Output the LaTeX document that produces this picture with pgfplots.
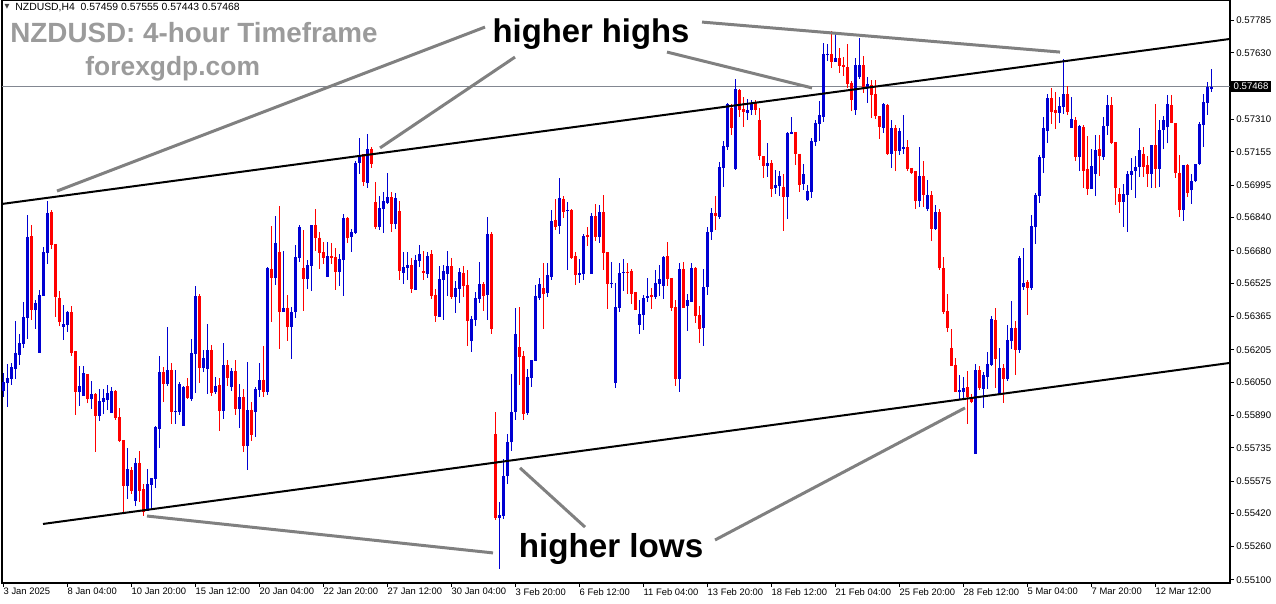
\documentclass[border=0pt]{standalone}
\usepackage{pgfplots}
\pgfplotsset{compat=1.18}
\usepackage{pgfplotstable}
\usetikzlibrary{calc}
\usepackage{fontspec}
\setmainfont{Liberation Sans}
\newfontfamily\djv{DejaVu Sans}
\definecolor{bull}{RGB}{0,0,210}
\definecolor{bear}{RGB}{255,0,0}
\definecolor{ann}{RGB}{128,128,128}
\definecolor{ttl}{RGB}{155,155,155}
\definecolor{pline}{RGB}{130,135,145}
\pgfplotstableread{
i o h l c
0 0.56009 0.56095 0.55980 0.56052
1 0.56047 0.56137 0.55932 0.56070
2 0.56066 0.56142 0.56038 0.56122
3 0.56114 0.56343 0.56066 0.56190
4 0.56182 0.56281 0.56134 0.56238
5 0.56234 0.56434 0.56215 0.56362
6 0.56359 0.56852 0.56258 0.56746
7 0.56751 0.56804 0.56348 0.56398
8 0.56394 0.56444 0.56305 0.56430
9 0.56191 0.56492 0.56191 0.56466
10 0.56465 0.56698 0.56465 0.56674
11 0.56671 0.56921 0.56618 0.56862
12 0.56866 0.56876 0.56690 0.56710
13 0.56713 0.56713 0.56364 0.56460
14 0.56454 0.56487 0.56319 0.56340
15 0.56316 0.56420 0.56254 0.56329
16 0.56326 0.56393 0.56292 0.56386
17 0.56386 0.56415 0.56177 0.56191
18 0.56199 0.56199 0.55894 0.56001
19 0.56002 0.56127 0.55937 0.56031
20 0.55985 0.56127 0.55985 0.56094
21 0.56089 0.56089 0.55948 0.55970
22 0.55970 0.56055 0.55922 0.55993
23 0.55993 0.55999 0.55716 0.55889
24 0.55889 0.56017 0.55865 0.55959
25 0.55956 0.56017 0.55895 0.55974
26 0.55966 0.56036 0.55916 0.55996
27 0.55903 0.56028 0.55903 0.56007
28 0.56007 0.56012 0.55868 0.55879
29 0.55882 0.55926 0.55762 0.55767
30 0.55772 0.55772 0.55420 0.55551
31 0.55551 0.55734 0.55490 0.55633
32 0.55628 0.55642 0.55513 0.55529
33 0.55481 0.55686 0.55455 0.55662
34 0.55662 0.55719 0.55476 0.55529
35 0.55537 0.55561 0.55409 0.55428
36 0.55433 0.55633 0.55433 0.55561
37 0.55558 0.55590 0.55442 0.55590
38 0.55585 0.55839 0.55542 0.55836
39 0.55825 0.56175 0.55734 0.56098
40 0.56098 0.56124 0.55954 0.56041
41 0.56041 0.56314 0.56031 0.56108
42 0.56108 0.56142 0.55850 0.55906
43 0.55908 0.56108 0.55850 0.55912
44 0.55906 0.56050 0.55892 0.56041
45 0.55841 0.56031 0.55841 0.56026
46 0.56031 0.56070 0.55970 0.55972
47 0.55970 0.56257 0.55961 0.56190
48 0.56185 0.56511 0.55998 0.56463
49 0.56463 0.56473 0.56047 0.56118
50 0.56118 0.56204 0.56098 0.56166
51 0.56114 0.56329 0.55994 0.56204
52 0.56204 0.56228 0.55985 0.55999
53 0.56002 0.56076 0.55993 0.56031
54 0.56036 0.56071 0.55817 0.55913
55 0.55913 0.56239 0.55874 0.56132
56 0.56132 0.56156 0.56033 0.56071
57 0.56028 0.56118 0.56009 0.56103
58 0.56103 0.56156 0.55894 0.55922
59 0.55922 0.56042 0.55831 0.55980
60 0.55980 0.56018 0.55716 0.55745
61 0.55745 0.56148 0.55630 0.55918
62 0.55918 0.55956 0.55769 0.55798
63 0.55908 0.56028 0.55788 0.56018
64 0.56014 0.56143 0.55980 0.56062
65 0.56062 0.56225 0.55980 0.56004
66 0.56004 0.56604 0.55990 0.56599
67 0.56594 0.56801 0.56340 0.56551
68 0.56551 0.56849 0.56518 0.56719
69 0.56676 0.56897 0.56210 0.56388
70 0.56388 0.56681 0.56388 0.56407
71 0.56407 0.56470 0.56249 0.56316
72 0.56316 0.56412 0.56162 0.56388
73 0.56388 0.56710 0.56359 0.56652
74 0.56647 0.56806 0.56628 0.56796
75 0.56599 0.56782 0.56393 0.56546
76 0.56546 0.56638 0.56498 0.56612
77 0.56609 0.56804 0.56489 0.56804
78 0.56804 0.56881 0.56681 0.56743
79 0.56743 0.56770 0.56594 0.56671
80 0.56674 0.56722 0.56618 0.56647
81 0.56556 0.56722 0.56556 0.56655
82 0.56655 0.56718 0.56618 0.56647
83 0.56650 0.56694 0.56494 0.56580
84 0.56580 0.56665 0.56513 0.56641
85 0.56638 0.56857 0.56465 0.56838
86 0.56838 0.56842 0.56719 0.56743
87 0.56748 0.56785 0.56676 0.56772
88 0.56767 0.57113 0.56762 0.57102
89 0.57102 0.57222 0.57050 0.57130
90 0.57145 0.57145 0.56993 0.57010
91 0.57006 0.57241 0.56982 0.57169
92 0.57169 0.57178 0.57078 0.57097
93 0.56914 0.57010 0.56783 0.56794
94 0.56794 0.56943 0.56780 0.56886
95 0.56881 0.56962 0.56766 0.56919
96 0.56910 0.57054 0.56905 0.56938
97 0.56938 0.56962 0.56772 0.56810
98 0.56810 0.56958 0.56786 0.56934
99 0.56871 0.56919 0.56542 0.56585
100 0.56575 0.56676 0.56522 0.56604
101 0.56599 0.56674 0.56540 0.56612
102 0.56612 0.56646 0.56479 0.56498
103 0.56494 0.56660 0.56494 0.56636
104 0.56631 0.56708 0.56602 0.56665
105 0.56583 0.56679 0.56540 0.56574
106 0.56569 0.56674 0.56550 0.56655
107 0.56665 0.56684 0.56450 0.56465
108 0.56470 0.56498 0.56340 0.56369
109 0.56364 0.56607 0.56364 0.56545
110 0.56540 0.56612 0.56350 0.56583
111 0.56569 0.56679 0.56463 0.56607
112 0.56607 0.56646 0.56450 0.56460
113 0.56460 0.56535 0.56383 0.56502
114 0.56498 0.56598 0.56431 0.56578
115 0.56574 0.56607 0.56460 0.56513
116 0.56516 0.56588 0.56225 0.56345
117 0.56249 0.56369 0.56196 0.56353
118 0.56350 0.56482 0.56321 0.56454
119 0.56450 0.56626 0.56431 0.56521
120 0.56521 0.56530 0.56393 0.56465
121 0.56470 0.56840 0.56350 0.56761
122 0.56761 0.56770 0.56282 0.56306
123 0.55801 0.55906 0.55390 0.55399
124 0.55399 0.55476 0.55154 0.55414
125 0.55409 0.55682 0.55394 0.55601
126 0.55601 0.55800 0.55560 0.55760
127 0.55760 0.56089 0.55720 0.55908
128 0.55908 0.56407 0.55868 0.56282
129 0.56218 0.56410 0.56036 0.56170
130 0.56175 0.56199 0.55868 0.55898
131 0.55903 0.56113 0.55894 0.56074
132 0.56071 0.56156 0.56028 0.56156
133 0.56153 0.56516 0.56153 0.56463
134 0.56455 0.56550 0.56444 0.56521
135 0.56502 0.56622 0.56306 0.56474
136 0.56479 0.56622 0.56460 0.56564
137 0.56556 0.56876 0.56542 0.56823
138 0.56828 0.56929 0.56780 0.56796
139 0.56801 0.57030 0.56762 0.56934
140 0.56929 0.56943 0.56839 0.56868
141 0.56871 0.56914 0.56590 0.56876
142 0.56876 0.56881 0.56641 0.56646
143 0.56655 0.56674 0.56518 0.56566
144 0.56566 0.56641 0.56527 0.56574
145 0.56570 0.56761 0.56542 0.56751
146 0.56756 0.56794 0.56705 0.56746
147 0.56570 0.56862 0.56570 0.56847
148 0.56847 0.56905 0.56729 0.56748
149 0.56748 0.56900 0.56719 0.56866
150 0.56866 0.56948 0.56590 0.56671
151 0.56674 0.56674 0.56402 0.56522
152 0.56522 0.56626 0.56503 0.56526
153 0.56047 0.56526 0.56023 0.56410
154 0.56407 0.56622 0.56388 0.56574
155 0.56576 0.56641 0.56489 0.56580
156 0.56580 0.56622 0.56474 0.56577
157 0.56583 0.56593 0.56426 0.56474
158 0.56482 0.56482 0.56398 0.56398
159 0.56326 0.56444 0.56282 0.56377
160 0.56374 0.56468 0.56302 0.56454
161 0.56454 0.56550 0.56436 0.56463
162 0.56468 0.56502 0.56402 0.56460
163 0.56460 0.56588 0.56450 0.56526
164 0.56522 0.56612 0.56465 0.56545
165 0.56513 0.56655 0.56450 0.56650
166 0.56655 0.56722 0.56513 0.56546
167 0.56550 0.56550 0.56393 0.56407
168 0.56410 0.56444 0.56033 0.56066
169 0.56066 0.56622 0.56004 0.56593
170 0.56593 0.56626 0.56407 0.56407
171 0.56417 0.56473 0.56297 0.56444
172 0.56436 0.56622 0.56436 0.56598
173 0.56598 0.56602 0.56335 0.56369
174 0.56372 0.56417 0.56239 0.56306
175 0.56311 0.56593 0.56225 0.56506
176 0.56506 0.56796 0.56470 0.56770
177 0.56770 0.56886 0.56732 0.56862
178 0.56862 0.56943 0.56780 0.56849
179 0.56844 0.57106 0.56833 0.57084
180 0.57079 0.57207 0.56988 0.57183
181 0.57177 0.57388 0.57164 0.57385
182 0.57366 0.57385 0.57238 0.57271
183 0.57073 0.57505 0.57068 0.57457
184 0.57452 0.57457 0.57324 0.57356
185 0.57361 0.57418 0.57276 0.57346
186 0.57342 0.57409 0.57308 0.57356
187 0.57356 0.57404 0.57332 0.57390
188 0.57390 0.57404 0.57332 0.57356
189 0.57308 0.57366 0.57116 0.57137
190 0.57135 0.57135 0.57031 0.57089
191 0.57087 0.57198 0.57036 0.57102
192 0.57102 0.57116 0.56940 0.56978
193 0.56983 0.57068 0.56953 0.56996
194 0.56991 0.57063 0.56942 0.57039
195 0.56988 0.57047 0.56777 0.56940
196 0.56940 0.57250 0.56833 0.57246
197 0.57242 0.57322 0.57241 0.57250
198 0.57250 0.57250 0.57094 0.57146
199 0.57146 0.57146 0.56964 0.56998
200 0.57002 0.57097 0.56972 0.57049
201 0.56926 0.56996 0.56918 0.56967
202 0.56964 0.57222 0.56935 0.57207
203 0.57204 0.57308 0.57185 0.57294
204 0.57290 0.57399 0.57209 0.57332
205 0.57324 0.57678 0.57300 0.57625
206 0.57620 0.57673 0.57591 0.57625
207 0.57625 0.57735 0.57559 0.57588
208 0.57588 0.57726 0.57588 0.57606
209 0.57606 0.57654 0.57535 0.57569
210 0.57572 0.57610 0.57521 0.57564
211 0.57562 0.57673 0.57462 0.57481
212 0.57486 0.57495 0.57351 0.57404
213 0.57356 0.57606 0.57332 0.57572
214 0.57514 0.57702 0.57505 0.57572
215 0.57572 0.57615 0.57438 0.57462
216 0.57466 0.57514 0.57390 0.57481
217 0.57476 0.57500 0.57318 0.57428
218 0.57433 0.57500 0.57313 0.57327
219 0.57327 0.57327 0.57217 0.57274
220 0.57270 0.57390 0.57246 0.57385
221 0.57380 0.57385 0.57140 0.57145
222 0.57145 0.57308 0.57078 0.57270
223 0.57270 0.57284 0.57063 0.57159
224 0.57159 0.57270 0.57140 0.57255
225 0.57169 0.57332 0.57145 0.57178
226 0.57178 0.57212 0.57063 0.57073
227 0.57078 0.57078 0.57049 0.57054
228 0.57063 0.57063 0.56881 0.56919
229 0.56919 0.57180 0.56890 0.57039
230 0.57039 0.57111 0.56890 0.56948
231 0.56881 0.57020 0.56871 0.56948
232 0.56948 0.56967 0.56727 0.56785
233 0.56785 0.56900 0.56780 0.56866
234 0.56866 0.56881 0.56588 0.56598
235 0.56598 0.56650 0.56377 0.56386
236 0.56391 0.56473 0.56290 0.56310
237 0.56214 0.56305 0.56127 0.56127
238 0.56132 0.56166 0.56002 0.56002
239 0.56002 0.56084 0.55969 0.56012
240 0.56002 0.56074 0.55969 0.56022
241 0.56026 0.56103 0.55849 0.55978
242 0.55978 0.55993 0.55948 0.55954
243 0.55705 0.56137 0.55705 0.56108
244 0.56108 0.56127 0.56012 0.56022
245 0.56017 0.56098 0.55926 0.56084
246 0.56074 0.56194 0.56017 0.56137
247 0.56132 0.56367 0.56127 0.56353
248 0.56348 0.56406 0.56022 0.56161
249 0.55993 0.56214 0.55993 0.56118
250 0.56118 0.56137 0.55950 0.56065
251 0.56065 0.56324 0.56055 0.56252
252 0.56247 0.56439 0.56209 0.56310
253 0.56310 0.56343 0.56084 0.56204
254 0.56204 0.56655 0.56190 0.56646
255 0.56506 0.56694 0.56492 0.56526
256 0.56530 0.56540 0.56372 0.56502
257 0.56502 0.56852 0.56492 0.56799
258 0.56794 0.56958 0.56713 0.56948
259 0.56943 0.57140 0.56910 0.57130
260 0.57126 0.57322 0.57054 0.57270
261 0.57255 0.57433 0.57198 0.57414
262 0.57414 0.57462 0.57289 0.57346
263 0.57356 0.57442 0.57265 0.57342
264 0.57342 0.57418 0.57294 0.57375
265 0.57370 0.57600 0.57337 0.57433
266 0.57433 0.57471 0.57332 0.57346
267 0.57270 0.57418 0.57270 0.57313
268 0.57308 0.57322 0.57111 0.57130
269 0.57130 0.57284 0.57063 0.57279
270 0.57274 0.57284 0.56982 0.57063
271 0.57073 0.57231 0.56948 0.56977
272 0.56977 0.57169 0.56977 0.57087
273 0.57049 0.57236 0.56943 0.57164
274 0.57169 0.57236 0.57039 0.57135
275 0.57130 0.57322 0.57116 0.57279
276 0.57279 0.57428 0.57236 0.57380
277 0.57380 0.57418 0.57193 0.57198
278 0.57202 0.57202 0.56900 0.56982
279 0.56953 0.56982 0.56862 0.56916
280 0.56916 0.57001 0.56796 0.56953
281 0.56950 0.57063 0.56772 0.57049
282 0.57046 0.57126 0.56972 0.57065
283 0.57065 0.57135 0.56934 0.57084
284 0.57084 0.57270 0.57036 0.57164
285 0.57146 0.57178 0.57036 0.57084
286 0.57092 0.57135 0.56988 0.57049
287 0.57049 0.57188 0.56982 0.57188
288 0.57188 0.57385 0.56982 0.57073
289 0.57073 0.57308 0.56988 0.57260
290 0.57260 0.57327 0.57167 0.57308
291 0.57273 0.57428 0.57196 0.57385
292 0.57380 0.57428 0.57292 0.57292
293 0.57292 0.57292 0.57030 0.57055
294 0.57055 0.57140 0.56844 0.56876
295 0.56876 0.57092 0.56825 0.57092
296 0.57092 0.57097 0.56940 0.56956
297 0.56970 0.57049 0.56905 0.57015
298 0.57015 0.57097 0.57010 0.57097
299 0.57097 0.57298 0.57092 0.57289
300 0.57284 0.57433 0.57180 0.57394
301 0.57390 0.57490 0.57332 0.57466
302 0.57459 0.57555 0.57443 0.57468
}\candles
\begin{document}
\begin{tikzpicture}[x=0.5pt,y=0.5pt]
\begin{axis}[
  scale only axis, width=614pt, height=291.5pt,
  xmin=-0.325, xmax=306.675, ymin=0.550856, ymax=0.57884,
  clip=false,
  axis line style={black, line width=0.6pt},
  tick align=outside, major tick length=2pt,
  tick style={black, line width=0.5pt},
  xtick pos=bottom, ytick pos=right, yticklabel pos=right,
  xtick={0,16,32,48,64,80,96,112,128,144,160,176,192,208,224,240,256,272,288},
  xticklabels={3 Jan 2025,8 Jan 04:00,10 Jan 20:00,15 Jan 12:00,20 Jan 04:00,22 Jan 20:00,27 Jan 12:00,30 Jan 04:00,3 Feb 20:00,6 Feb 12:00,11 Feb 04:00,13 Feb 20:00,18 Feb 12:00,21 Feb 04:00,25 Feb 20:00,28 Feb 12:00,5 Mar 04:00,7 Mar 20:00,12 Mar 12:00},
  xticklabel style={anchor=north west, xshift=-1pt, yshift=0.5pt, inner sep=1pt, font=\fontsize{4.7}{6}\selectfont},
  ytick={0.55100,0.55260,0.55420,0.55575,0.55735,0.55890,0.56050,0.56205,0.56365,0.56525,0.56680,0.56840,0.56995,0.57155,0.57310,0.57630,0.57785},
  yticklabels={0.55100,0.55260,0.55420,0.55575,0.55735,0.55890,0.56050,0.56205,0.56365,0.56525,0.56680,0.56840,0.56995,0.57155,0.57310,0.57630,0.57785},
  yticklabel style={anchor=west, inner sep=1pt, font=\fontsize{4.8}{6}\selectfont},
]
% current price line
\addplot[pline, line width=0.5pt] coordinates {(-0.325,0.57468) (306.675,0.57468)};
% wicks
\addplot[bull, mark=none, line width=0.5pt, quiver={u=0,v=\thisrow{h}-\thisrow{l}},
  restrict expr to domain={\thisrow{c}-\thisrow{o}}{0:1}] table[x=i,y=l]{\candles};
\addplot[bear, mark=none, line width=0.5pt, quiver={u=0,v=\thisrow{h}-\thisrow{l}},
  restrict expr to domain={\thisrow{c}-\thisrow{o}}{-1:-0.000001}] table[x=i,y=l]{\candles};
% bodies
\addplot[bull, mark=none, line width=1.6pt, quiver={u=0,v=\thisrow{c}-\thisrow{o}},
  restrict expr to domain={\thisrow{c}-\thisrow{o}}{0:1}] table[x=i,y=o]{\candles};
\addplot[bear, mark=none, line width=1.6pt, quiver={u=0,v=\thisrow{c}-\thisrow{o}},
  restrict expr to domain={\thisrow{c}-\thisrow{o}}{-1:-0.000001}] table[x=i,y=o]{\candles};
% channel lines
\addplot[black, line width=1pt] coordinates {(-0.325,0.56905) (306.675,0.57697)};
\addplot[black, line width=1pt] coordinates {(9.925,0.55369) (306.675,0.56142)};
% annotation pointers
\addplot[ann, line width=1.5pt] coordinates {(13.43,0.56967) (120.43,0.57754)};
\addplot[ann, line width=1.5pt] coordinates {(94.18,0.57174) (127.93,0.57610)};
\addplot[ann, line width=1.5pt] coordinates {(165.93,0.57634) (202.18,0.57462)};
\addplot[ann, line width=1.5pt] coordinates {(174.68,0.57778) (264.18,0.57634)};
\addplot[ann, line width=1.5pt] coordinates {(35.93,0.55407) (122.43,0.55230)};
\addplot[ann, line width=1.5pt] coordinates {(129.18,0.55638) (145.43,0.55354)};
\addplot[ann, line width=1.5pt] coordinates {(177.93,0.55292) (240.43,0.55926)};
% texts
\node[inner sep=0pt, text=black!75, font=\djv\fontsize{3.2}{4}\selectfont] at (axis cs:0.93,0.57850) {▼};
\node[anchor=west, inner sep=0pt, font=\fontsize{5.2}{6}\selectfont] at (axis cs:2.925,0.578456) {NZDUSD,H4\ \ 0.57459 0.57555 0.57443 0.57468};
\node[anchor=west, inner sep=0pt, text=ttl, font=\bfseries\fontsize{13.9}{16}\selectfont] at (axis cs:1.675,0.57730) {NZDUSD: 4-hour Timeframe};
\node[anchor=west, inner sep=0pt, text=ttl, font=\bfseries\fontsize{13.2}{16}\selectfont] at (axis cs:20.43,0.57553) {forexgdp.com};
\node[inner sep=0pt, font=\bfseries\fontsize{16.4}{18}\selectfont] at (axis cs:146.93,0.57721) {higher highs};
\node[inner sep=0pt, font=\bfseries\fontsize{16.6}{18}\selectfont] at (axis cs:151.93,0.55250) {higher lows};
\node[anchor=west, fill=black, text=white, inner sep=1.2pt, font=\fontsize{4.8}{6}\selectfont] at (axis cs:306.9,0.57468) {0.57468};
\coordinate (BL) at (rel axis cs:0,0);
\end{axis}
\pgfresetboundingbox
\useasboundingbox ($(BL)+(-2,-21)$) rectangle ($(BL)+(1274,583)$);
\end{tikzpicture}
\end{document}
